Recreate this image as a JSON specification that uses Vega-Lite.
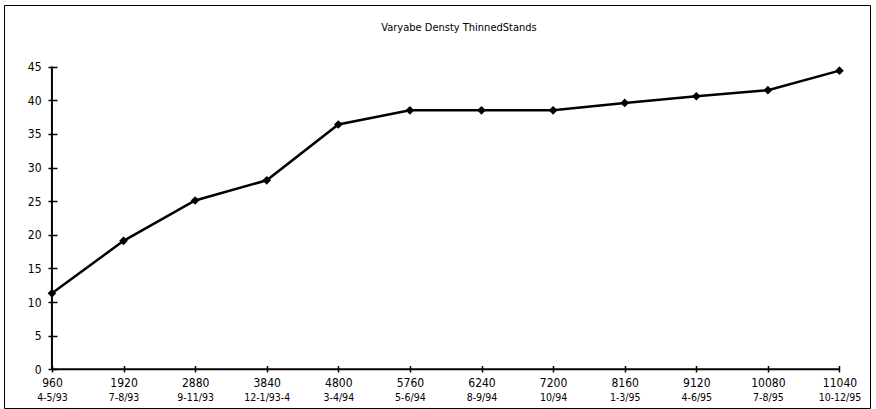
{
  "$schema": "https://vega.github.io/schema/vega-lite/v6.json",
  "autosize": {"type": "none"},
  "padding": {"left": 4, "top": 5, "right": 6, "bottom": 1},
  "width": 866,
  "height": 403,
  "background": "white",
  "config": {
    "view": {"stroke": "black", "strokeWidth": 1},
    "font": "Liberation Sans Narrow, DejaVu Sans Condensed, sans-serif"
  },
  "title": {
    "text": "Varyabe Densty ThinnedStands",
    "fontSize": 11,
    "fontWeight": "normal",
    "font": "Liberation Sans Narrow, DejaVu Sans Condensed, sans-serif",
    "anchor": "middle",
    "dx": 22,
    "offset": -28,
    "color": "black"
  },
  "data": {
    "values": [
      {"x": "960|4-5/93", "v": 11.3},
      {"x": "1920|7-8/93", "v": 19.1},
      {"x": "2880|9-11/93", "v": 25.1},
      {"x": "3840|12-1/93-4", "v": 28.1},
      {"x": "4800|3-4/94", "v": 36.4},
      {"x": "5760|5-6/94", "v": 38.5},
      {"x": "6240|8-9/94", "v": 38.5},
      {"x": "7200|10/94", "v": 38.5},
      {"x": "8160|1-3/95", "v": 39.6},
      {"x": "9120|4-6/95", "v": 40.6},
      {"x": "10080|7-8/95", "v": 41.5},
      {"x": "11040|10-12/95", "v": 44.4}
    ]
  },
  "resolve": {"axis": {"x": "independent"}},
  "layer": [
    {
      "mark": {"type": "line", "color": "black", "strokeWidth": 2.5},
      "encoding": {
        "x": {
          "field": "x", "type": "nominal", "sort": null,
          "scale": {"type": "point", "range": [0, 866], "padding": 0.548, "align": 0.611},
          "axis": {
            "orient": "bottom", "title": null, "domain": false, "grid": false,
            "offset": -42.5, "tickSize": 6.5, "tickWidth": 1.5, "tickColor": "black",
            "labelPadding": 5, "labelBaseline": "top", "labelAngle": 0,
            "labelFontSize": 12, "labelColor": "black",
            "labelExpr": "split(datum.value, '|')[0]"
          }
        },
        "y": {
          "field": "v", "type": "quantitative",
          "scale": {"domain": [-5.75, 54.16], "nice": false, "zero": false},
          "axis": {
            "title": null, "domain": false, "grid": false,
            "values": [0, 5, 10, 15, 20, 25, 30, 35, 40, 45],
            "offset": -53, "tickSize": 9, "tickWidth": 1.5, "tickColor": "black",
            "labelPadding": 7, "labelFontSize": 12, "labelColor": "black"
          }
        }
      }
    },
    {
      "mark": {"type": "point", "shape": "diamond", "filled": true, "color": "black", "size": 75, "opacity": 1},
      "encoding": {
        "x": {
          "field": "x", "type": "nominal", "sort": null,
          "axis": {
            "orient": "bottom", "title": null, "domain": false, "grid": false,
            "ticks": false, "tickSize": 0, "offset": -16,
            "labelPadding": 0, "labelBaseline": "top", "labelAngle": 0,
            "labelFontSize": 10.5, "labelColor": "black",
            "labelExpr": "split(datum.value, '|')[1]"
          }
        },
        "y": {"field": "v", "type": "quantitative"}
      }
    },
    {
      "mark": {"type": "line", "color": "black", "strokeWidth": 2},
      "encoding": {
        "x": {"field": "x", "type": "nominal", "sort": null, "axis": null},
        "y": {"datum": 0, "type": "quantitative"}
      }
    },
    {
      "transform": [{"filter": "datum.x == '960|4-5/93'"}],
      "mark": {"type": "rule", "color": "black", "strokeWidth": 2},
      "encoding": {
        "x": {"field": "x", "type": "nominal", "sort": null, "axis": null},
        "y": {"datum": 0, "type": "quantitative"},
        "y2": {"datum": 45}
      }
    }
  ]
}
